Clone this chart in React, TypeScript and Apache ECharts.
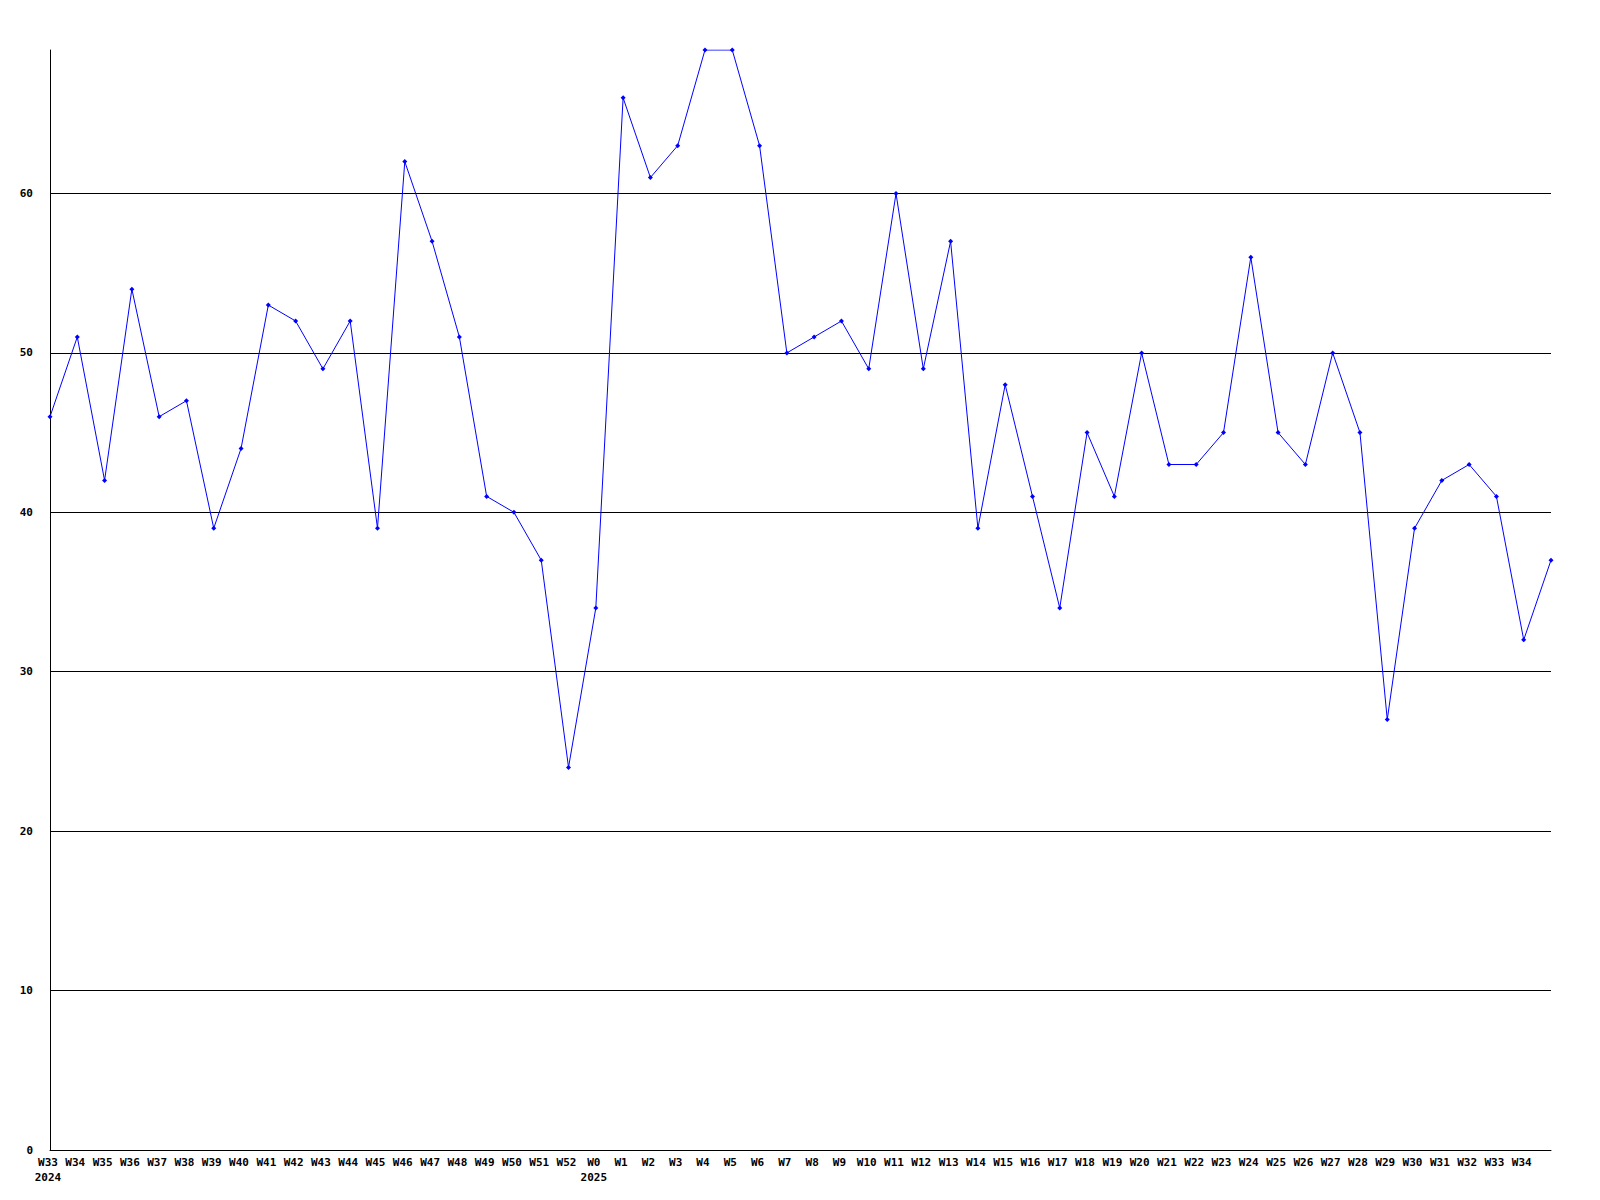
import React, { useEffect, useRef } from "react";
import * as echarts from "echarts";

const weeks = [
  "W33\n2024", "W34", "W35", "W36", "W37", "W38", "W39", "W40", "W41", "W42", "W43", "W44", "W45", "W46", "W47", "W48", "W49", "W50", "W51", "W52",
  "W0\n2025", "W1", "W2", "W3", "W4", "W5", "W6", "W7", "W8", "W9", "W10", "W11", "W12", "W13", "W14", "W15", "W16", "W17", "W18", "W19", "W20",
  "W21", "W22", "W23", "W24", "W25", "W26", "W27", "W28", "W29", "W30", "W31", "W32", "W33", "W34", "",
];

const values = [
  46, 51, 42, 54, 46, 47, 39, 44, 53, 52, 49, 52, 39, 62, 57, 51, 41, 40, 37, 24,
  34, 66, 61, 63, 69, 69, 63, 50, 51, 52, 49, 60, 49, 57, 39, 48, 41, 34, 45, 41, 50,
  43, 43, 45, 56, 45, 43, 50, 45, 27, 39, 42, 43, 41, 32, 37,
];

const yTicks = { min: 0, max: 69, interval: 10 };

export default function App() {
  const ref = useRef<HTMLDivElement>(null);
  useEffect(() => {
    if (!ref.current) return;
    const chart = echarts.init(ref.current, null, { renderer: "svg" });
    const font = {
      fontFamily: "DejaVu Sans Mono",
      fontWeight: "bold" as const,
      fontSize: 11,
      color: "#000",
    };
    chart.setOption({
      animation: false,
      backgroundColor: "#fff",
      grid: { left: 50, top: 50, right: 49, bottom: 50, containLabel: false },
      xAxis: {
        type: "category",
        data: weeks,
        boundaryGap: false,
        axisLine: { lineStyle: { color: "#000", width: 1 } },
        axisTick: { show: false },
        axisLabel: { ...font, interval: 0, margin: 5, lineHeight: 15, verticalAlign: "top", padding: [0, 4, 0, 0] },
        splitLine: { show: false },
      },
      yAxis: {
        type: "value",
        min: yTicks.min,
        max: yTicks.max,
        interval: yTicks.interval,
        axisLine: { show: true, lineStyle: { color: "#000", width: 1 } },
        axisTick: { show: false },
        axisLabel: { ...font, margin: 17, showMaxLabel: false },
        splitLine: { show: true, showMaxLine: false, showMinLine: false, lineStyle: { color: "#000", width: 1 } },
      },
      series: [
        {
          type: "line",
          data: values,
          color: "#0000ff",
          lineStyle: { color: "#0000ff", width: 1 },
          symbol: "diamond",
          symbolSize: 5,
          itemStyle: { color: "#0000ff" },
        },
      ],
    });
    return () => chart.dispose();
  }, []);
  return (
    <div
      ref={ref}
      style={{ position: "fixed", left: 0, top: 0, width: 1600, height: 1200, background: "#fff" }}
    />
  );
}
